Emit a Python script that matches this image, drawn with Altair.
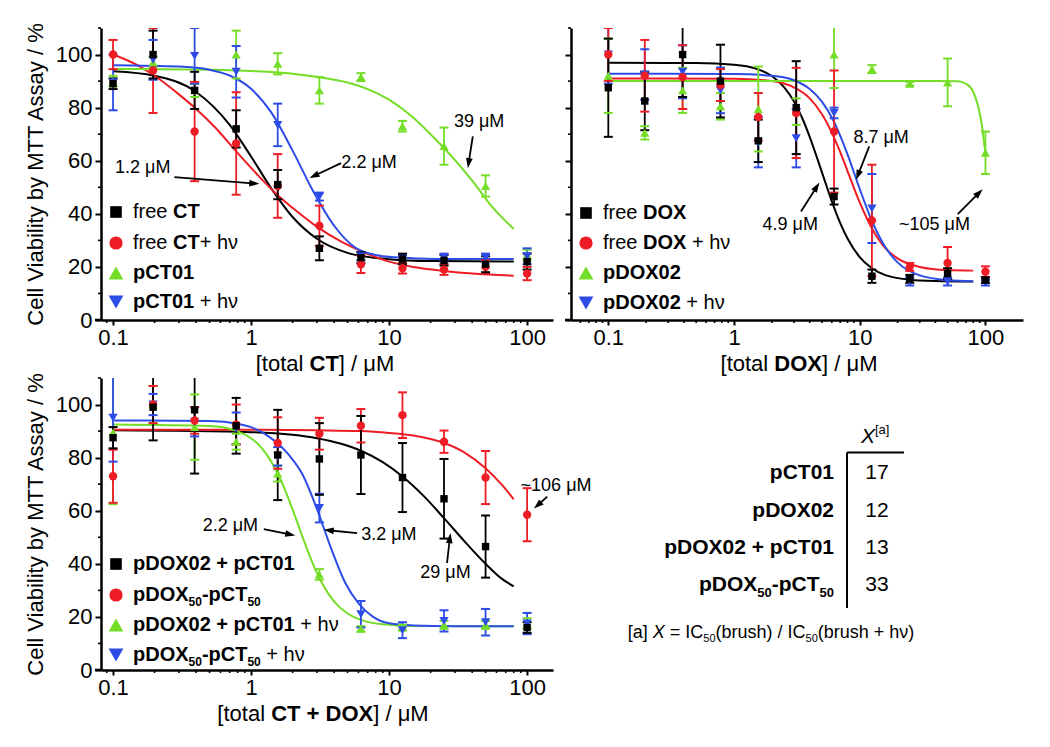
import math
import altair as alt
import pandas as pd

FONT = "Liberation Sans"
BLACK, RED, GREEN, BLUE = "#000000", "#ee1c25", "#74dd26", "#2d4ce6"

# ---------------- data ----------------
conc = [0.1, 0.195, 0.39, 0.78, 1.56, 3.125, 6.25, 12.5, 25, 50, 100]

# panel A : CT
a_black_mean = [89, 100, 86.5, 72, 51, 27, 23.5, 23, 22.5, 21, 22]
a_black_err = [2, 9, 7, 7, 5.5, 4.5, 2, 2, 2, 3, 3]
a_red_mean = [100, 94, 71, 66.5, 50.5, 35.5, 21, 19.5, 19, 20, 17.5]
a_red_err = [5.5, 16, 18.7, 19.3, 12, 7.6, 3.3, 2, 2, 2.5, 2.5]
a_green_mean = [90, 97, 86.5, 100, 96.5, 86.5, 91.5, 73, 65.5, 50.5, 24.5]
a_green_err = [2, 2, 2.5, 9, 4, 5, 1.5, 2, 7, 4, 2]
a_blue_mean = [89.5, 98, 99.5, 93.5, 73.5, 46.5, 24, 23, 23.5, 23.5, 24]
a_blue_err = [10.5, 7.5, 10.5, 9.7, 8, 1.5, 1.5, 1.5, 1.5, 1.5, 3]

a_black_fit_x = [0.1, 0.2, 0.4, 0.7, 1, 1.4, 2, 3, 5, 10, 20, 80]
a_black_fit_y = [93.7, 92.0, 85.9, 73.5, 61.6, 49.6, 38.8, 30.6, 25.3, 22.9, 22.2, 22.0]
a_red_fit_x = [0.1, 0.15, 0.2, 0.3, 0.4, 0.55, 0.78, 1.1, 1.56, 2.2, 3.125, 4.5, 6.25, 10, 15, 25, 40, 80]
a_red_fit_y = [100, 96, 92, 85, 79.5, 72.5, 63.5, 55, 47, 40.5, 34.5, 29.5, 26, 22, 20, 18.5, 17.5, 16.7]
a_green_fit_x = [0.1, 0.5, 1, 2, 3, 5, 7, 10, 14, 20, 28, 40, 56, 80]
a_green_fit_y = [94.6, 94.3, 93.8, 92.8, 91.6, 89.5, 87, 83, 77.5, 70, 62, 52.5, 42.5, 34.3]
a_blue_fit_x = [0.1, 0.3, 0.5, 0.7, 1, 1.4, 2, 2.8, 4, 5.6, 8, 11, 16, 30, 80]
a_blue_fit_y = [96, 95.5, 94.3, 92.1, 87.1, 78.2, 63.8, 48.8, 35.5, 27.5, 24.5, 23.6, 23.2, 23, 23]

# panel B : DOX
b_black_mean = [87.5, 82.5, 100, 90, 67.5, 80, 46.5, 16.5, 15.5, 17.5, 15]
b_black_err = [18.5, 11, 16, 13.7, 8, 17.5, 3, 2.5, 1.5, 2, 1]
b_red_mean = [100, 92, 91.5, 88.5, 76.5, 78, 71, 37.5, 20, 21.5, 18.2]
b_red_err = [10, 13.5, 12, 6, 9, 17, 23, 21, 1.5, 6, 2]
b_green_mean = [92, 70.5, 86.5, 80.5, 79.5, 78.5, 100, 94.5, 89, 89.5, 63]
b_green_err = [14, 2.5, 8.5, 5, 16, 5, 12.6, 1.5, 0.7, 9, 8]
b_blue_mean = [100, 92.5, 93.5, 86.5, 67, 68.5, 78, 42, 14.5, 14.5, 14]
b_blue_err = [11, 9.5, 10, 8.6, 9.5, 11, 2, 13, 1.5, 1.5, 1]

b_black_fit_x = [0.1, 0.5, 1, 1.5, 2, 2.5, 3, 3.5, 4, 5, 6, 7, 8, 10, 12.5, 16, 25, 40, 80]
b_black_fit_y = [96.9, 96.8, 96.2, 94.7, 91.9, 87.7, 82.3, 75.9, 69, 55.7, 44.7, 36.5, 30.7, 23.7, 19.5, 16.9, 15.2, 14.7, 14.5]
b_red_fit_x = [0.1, 1, 2, 3, 4, 5, 6, 7, 8, 10, 12.5, 16, 20, 30, 50, 80]
b_red_fit_y = [91, 90.9, 90, 87.6, 83.5, 77.6, 70.6, 63.2, 56.1, 44.3, 34.5, 27.1, 23.2, 20, 18.8, 18.6]
b_green_fit_x = [0.1, 10, 40, 60, 70, 80, 88, 94, 98, 100]
b_green_fit_y = [90, 90, 90, 89.9, 89, 86, 80, 73, 66, 63.5]
b_blue_fit_x = [0.1, 1, 2, 3, 4, 5, 6, 7, 8, 10, 12.5, 16, 20, 30, 50, 80]
b_blue_fit_y = [92.8, 92.7, 92, 90.3, 87, 82.3, 76.3, 69.4, 62.4, 49.4, 37.3, 27.4, 21.7, 16.8, 15, 14.6]

# panel C : CT + DOX
c_black_mean = [87.5, 99, 98, 92, 81, 79.5, 81, 72.5, 64.5, 46.5, 16]
c_black_err = [4, 12.5, 24, 10.5, 17, 13.5, 14.7, 13, 15, 11.7, 2]
c_red_mean = [73, 100, 94, 92.5, 85.5, 89, 92, 96, 86, 72.5, 58.5]
c_red_err = [10, 7, 5, 7.5, 9.7, 6, 6.3, 8.6, 4.2, 10, 10]
c_green_mean = [89.5, 100, 91.5, 86, 74, 36, 15.5, 16, 17, 17, 17.5]
c_green_err = [27, 7, 12.3, 3, 3, 2, 1, 1, 1.5, 1.5, 2]
c_blue_mean = [95, 100, 93.5, 91, 80.5, 61, 21, 15, 18.5, 18, 17.5]
c_blue_err = [16.5, 4, 5.5, 6, 3.5, 5.4, 5, 3, 4, 5, 4]

c_black_fit_x = [0.1, 1, 2, 3, 4.5, 6.25, 9, 12.5, 18, 25, 35, 50, 65, 80]
c_black_fit_y = [90.3, 89.6, 88.6, 87.3, 85.2, 82.6, 78.3, 72.9, 65.3, 57.2, 48.6, 40.0, 34.5, 31.5]
c_red_fit_x = [0.1, 1, 3, 6.25, 10, 15, 20, 25, 35, 50, 65, 80]
c_red_fit_y = [90.5, 90.5, 90.3, 90, 89.3, 88.3, 87, 85.5, 82, 76, 70, 64.3]
c_green_fit_x = [0.1, 0.5, 0.8, 1, 1.2, 1.4, 1.7, 2, 2.4, 2.8, 3.3, 4, 5, 6.5, 9, 15, 80]
c_green_fit_y = [92.5, 91.9, 89.9, 87.3, 83.5, 78.5, 69.8, 60.4, 49.1, 40.1, 32.3, 25.8, 21.3, 18.6, 17.2, 16.6, 16.5]
c_blue_fit_x = [0.1, 0.5, 0.8, 1, 1.34, 1.88, 2.34, 3.01, 3.76, 4.83, 6.03, 7.53, 10, 15, 30, 80]
c_blue_fit_y = [94, 93.8, 92.8, 91.5, 88, 81, 74, 60.5, 46.5, 32.7, 25, 20.3, 17.6, 16.8, 16.5, 16.5]

# annotations (text, x, y) and arrows (x_start, y_start, x_tip, y_tip)
a_notes = [("39 μM", 44.9, 74.7), ("2.2 μM", 7.16, 59.2), ("1.2 μM", 0.164, 57.2)]
a_arrows = [(40.4, 69.2, 37.2, 57.2), (4.49, 59.1, 2.65, 53.5), (0.278, 53.8, 1.148, 51.3)]
b_notes = [("8.7 μM", 14.8, 68.6), ("4.9 μM", 2.80, 35.8), ("~105 μM", 39.3, 35.8)]
b_arrows = [(11.9, 65.4, 9.36, 52.8), (3.41, 40.9, 4.78, 51.8), (60.3, 39.9, 95, 49.3)]
c_notes = [("2.2 μM", 0.708, 54.1), ("3.2 μM", 9.96, 50.9), ("29 μM", 25.6, 36.5), ("~106 μM", 162, 69.4)]
c_arrows = [(1.236, 53.1, 2.09, 50.7), (5.86, 51.6, 3.36, 52.8), (26.3, 40.3, 27.8, 51.6), (140, 65.3, 112, 60.8)]

# legend labels: list of (text, style, kind)
a_legend = [
    [("free ", "R", "n"), ("CT", "B", "n")],
    [("free ", "R", "n"), ("CT", "B", "n"), ("+ hν", "R", "n")],
    [("pCT01", "B", "n")],
    [("pCT01", "B", "n"), (" + hν", "R", "n")],
]
b_legend = [
    [("free ", "R", "n"), ("DOX", "B", "n")],
    [("free ", "R", "n"), ("DOX", "B", "n"), (" + hν", "R", "n")],
    [("pDOX02", "B", "n")],
    [("pDOX02", "B", "n"), (" + hν", "R", "n")],
]
c_legend = [
    [("pDOX02 + pCT01", "B", "n")],
    [("pDOX", "B", "n"), ("50", "B", "sub"), ("-pCT", "B", "n"), ("50", "B", "sub")],
    [("pDOX02 + pCT01", "B", "n"), (" + hν", "R", "n")],
    [("pDOX", "B", "n"), ("50", "B", "sub"), ("-pCT", "B", "n"), ("50", "B", "sub"), (" + hν", "R", "n")],
]
a_xtitle = [("[total ", "R", "n"), ("CT", "B", "n"), ("] / μM", "R", "n")]
b_xtitle = [("[total ", "R", "n"), ("DOX", "B", "n"), ("] / μM", "R", "n")]
c_xtitle = [("[total ", "R", "n"), ("CT + DOX", "B", "n"), ("] / μM", "R", "n")]

# table
tab_rows = [
    [("pCT01", "B", "n")],
    [("pDOX02", "B", "n")],
    [("pDOX02 + pCT01", "B", "n")],
    [("pDOX", "B", "n"), ("50", "B", "sub"), ("-pCT", "B", "n"), ("50", "B", "sub")],
]
tab_values = ["17", "12", "13", "33"]
tab_header = [("X", "I", "n"), ("[a]", "R", "sup")]
tab_foot = [("[a] ", "R", "n"), ("X", "I", "n"), (" = IC", "R", "n"), ("50", "R", "sub"),
            ("(brush) / IC", "R", "n"), ("50", "R", "sub"), ("(brush + hν)", "R", "n")]

# ---------------- layout (pixels) ----------------
W, H = 452, 292
PA = dict(x0=0.0818, x1=154.0)
PB = dict(x0=0.0505, x1=199.0)
PC = dict(x0=0.0818, x1=154.0)
LEG_SYM_X, LEG_TXT_X = 15, 32
a_leg_py = [184, 215, 245, 274]
b_leg_py = [185, 215, 245, 275]
c_leg_py = [186, 217, 247, 277]
a_xt = (224, 336)
b_xt = (228, 336)
c_xt = (222, 336)
tab_label_right = 263
tab_value_x = 306
tab_row_py = [95, 133, 170, 207]
tab_head_px, tab_head_py = 290, 59
tab_lines = [(276, 74.5, 333, 74.5), (276, 74.5, 276, 230)]
tab_foot_cx, tab_foot_py = 200, 255

REG = {' ': 278, '(': 333, ')': 333, '+': 584, '-': 333, '.': 278, '/': 278, '=': 584,
       '[': 278, ']': 278, '~': 584, '%': 889, 'A': 667, 'C': 722, 'D': 722, 'I': 278,
       'M': 833, 'O': 778, 'T': 611, 'X': 667, 'a': 556, 'b': 556, 'c': 500, 'e': 556,
       'f': 278, 'h': 556, 'l': 222, 'o': 556, 'p': 556, 'r': 333, 's': 500, 't': 278,
       'u': 556, 'y': 500, 'μ': 576, 'ν': 500}
BLD = {' ': 278, '+': 584, '-': 333, 'C': 722, 'D': 722, 'O': 778, 'T': 611, 'X': 667,
       'p': 611, 'e': 556, 'f': 333, 'r': 389, 'h': 611, 'ν': 556, 't': 333, 'o': 611}


def tw(s, bold, size):
    tab = BLD if bold else REG
    return sum(tab.get(c, 556) for c in s) * size / 1000.0


def seg_rows(segs, px, py, size, align="left"):
    items, total = [], 0.0
    for text, style, kind in segs:
        s = size if kind == "n" else round(size * 0.62)
        w = tw(text, style == "B", s)
        items.append((text, style, kind, s, w))
        total += w
    cur = px - total / 2 if align == "center" else (px - total if align == "right" else px)
    rows = []
    for text, style, kind, s, w in items:
        stripped = text.lstrip(" ")
        lead = tw(text[: len(text) - len(stripped)], style == "B", s)
        dy = {"n": 0.0, "sub": 0.36 * size, "sup": -0.32 * size}[kind]
        rows.append(dict(px=cur + lead, py=py + dy, text=stripped, style=style, size=s))
        cur += w
    return rows


def lg(v):
    return math.log10(v)


def x2px(P, v):
    return W * (lg(v) - lg(P["x0"])) / (lg(P["x1"]) - lg(P["x0"]))


def px2x(P, px):
    return 10 ** (lg(P["x0"]) + px / W * (lg(P["x1"]) - lg(P["x0"])))


def y2px(v):
    return H * (1 - v / 110.0)


def px2y(py):
    return 110.0 * (1 - py / H)


def text_layers(df, X, Y):
    out = []
    for style, kw in (("R", {}), ("B", {"fontWeight": "bold"}), ("I", {"fontStyle": "italic"})):
        sub = df[df["style"] == style]
        if len(sub) == 0:
            continue
        out.append(
            alt.Chart(sub).mark_text(align="left", baseline="middle", font=FONT, color="black", **kw)
            .encode(x=X("x"), y=Y("y"), text="text:N", size=alt.Size("size:Q", scale=None))
        )
    return out


SHAPE_SIZE = {"square": 55, "circle": 70, "triangle-up": 85, "triangle-down": 85}
LEG_SIZE = {"square": 135, "circle": 175, "triangle-up": 220, "triangle-down": 220}
ARROW_PATH = "M0,0L-0.5,1.5L0.5,1.5Z"


def panel(P, series, legend, leg_py, notes, arrows, xtitle, xt, ylabels):
    xs = alt.Scale(type="log", domain=[P["x0"], P["x1"]], nice=False)
    ys = alt.Scale(domain=[0, 110], nice=False, zero=False)
    xax = alt.Axis(values=[0.1, 1, 10, 100], format="~g", title=None, grid=False, tickSize=5,
                   tickWidth=2, domainWidth=2.5, labelFontSize=22, labelPadding=2, labelFont=FONT,
                   labelColor="black", tickColor="black", domainColor="black", labelFlush=False)
    if ylabels:
        yax = alt.Axis(values=[0, 20, 40, 60, 80, 100], title="Cell Viability by MTT Assay / %",
                       grid=False, tickSize=6, tickWidth=2, domainWidth=2.5, labelFontSize=22,
                       labelPadding=3, labelFont=FONT, labelColor="black", tickColor="black",
                       domainColor="black", titleFont=FONT, titleFontSize=22,
                       titleFontWeight="normal", titleColor="black", titlePadding=8)
    else:
        yax = alt.Axis(values=[0, 20, 40, 60, 80, 100], title=None, labels=False, grid=False,
                       tickSize=6, tickWidth=2, domainWidth=2.5, tickColor="black",
                       domainColor="black")

    def X(f):
        return alt.X(f + ":Q", scale=xs, axis=xax)

    def Y(f):
        return alt.Y(f + ":Q", scale=ys, axis=yax)

    layers = []
    crows = []
    for sid, (name, col, shp, mean, err, fx, fy) in enumerate(series):
        for i, (xv, yv) in enumerate(zip(fx, fy)):
            crows.append(dict(sid=sid, i=i, x=xv, y=yv, col=col))
    layers.append(
        alt.Chart(pd.DataFrame(crows)).mark_line(strokeWidth=2, interpolate="monotone", clip=True)
        .encode(x=X("x"), y=Y("y"), color=alt.Color("col:N", scale=None),
                detail="sid:N", order="i:Q")
    )
    draw_order = [2, 3, 1, 0]
    erows, caprows, prows = [], [], []
    for k in draw_order:
        name, col, shp, mean, err, fx, fy = series[k]
        for xv, m, e in zip(conc, mean, err):
            erows.append(dict(x=xv, lo=m - e, hi=m + e, col=col))
            caprows.append(dict(x=xv, y=m - e, col=col))
            caprows.append(dict(x=xv, y=m + e, col=col))
            prows.append(dict(x=xv, y=m, col=col, shp=shp, sz=SHAPE_SIZE[shp]))
    layers.append(
        alt.Chart(pd.DataFrame(erows)).mark_rule(strokeWidth=1.8, clip=True)
        .encode(x=X("x"), y=Y("lo"), y2="hi:Q", color=alt.Color("col:N", scale=None))
    )
    layers.append(
        alt.Chart(pd.DataFrame(caprows)).mark_point(shape="stroke", filled=False, strokeWidth=2,
                                                    size=81, opacity=1, clip=True)
        .encode(x=X("x"), y=Y("y"), color=alt.Color("col:N", scale=None))
    )
    layers.append(
        alt.Chart(pd.DataFrame(prows)).mark_point(filled=True, opacity=1, clip=True)
        .encode(x=X("x"), y=Y("y"), color=alt.Color("col:N", scale=None),
                shape=alt.Shape("shp:N", scale=None), size=alt.Size("sz:Q", scale=None))
    )
    xminor = [v for v in [0.06, 0.07, 0.08, 0.09] if v > P["x0"]]
    xminor += [k * 10 ** e for e in (-1, 0, 1) for k in range(2, 10)]
    layers.append(
        alt.Chart(pd.DataFrame({"x": xminor})).mark_rule(strokeWidth=1.6, color="black")
        .encode(x=X("x"), y=alt.value(H), y2=alt.value(H + 3))
    )
    layers.append(
        alt.Chart(pd.DataFrame({"y": [10, 30, 50, 70, 90, 110]})).mark_rule(strokeWidth=1.6, color="black")
        .encode(y=Y("y"), x=alt.value(-3), x2=alt.value(0))
    )
    layers.append(
        alt.Chart(pd.DataFrame({"k": [0]})).mark_rule(strokeWidth=2.5, color="black")
        .encode(x=alt.value(-6), x2=alt.value(0), y=alt.value(H))
    )
    arows = []
    for xs0, ys0, xe, ye in arrows:
        sx, sy, ex, ey = x2px(P, xs0), y2px(ys0), x2px(P, xe), y2px(ye)
        dx, dy = ex - sx, ey - sy
        L = math.hypot(dx, dy)
        ang = math.degrees(math.atan2(dx, -dy)) % 360
        lx, ly = ex - dx / L * 7, ey - dy / L * 7
        arows.append(dict(x=xs0, y=ys0, x2=px2x(P, lx), y2=px2y(ly), hx=xe, hy=ye, ang=ang))
    adf = pd.DataFrame(arows)
    layers.append(
        alt.Chart(adf).mark_rule(strokeWidth=1.8, color="black")
        .encode(x=X("x"), y=Y("y"), x2="x2:Q", y2="y2:Q")
    )
    layers.append(
        alt.Chart(adf).mark_point(shape=ARROW_PATH, filled=True, size=180, color="black", opacity=1)
        .encode(x=X("hx"), y=Y("hy"), angle=alt.Angle("ang:Q", scale=None))
    )
    lrows = []
    for k, py in zip(range(4), leg_py):
        name, col, shp, mean, err, fx, fy = series[k]
        lrows.append(dict(x=px2x(P, LEG_SYM_X), y=px2y(py), col=col, shp=shp, sz=LEG_SIZE[shp]))
    layers.append(
        alt.Chart(pd.DataFrame(lrows)).mark_point(filled=True, opacity=1)
        .encode(x=X("x"), y=Y("y"), color=alt.Color("col:N", scale=None),
                shape=alt.Shape("shp:N", scale=None), size=alt.Size("sz:Q", scale=None))
    )
    trows = []
    for segs, py in zip(legend, leg_py):
        trows += seg_rows(segs, LEG_TXT_X, py, 20)
    for text, xv, yv in notes:
        trows += seg_rows([(text, "R", "n")], x2px(P, xv), y2px(yv), 18, align="center")
    trows += seg_rows(xtitle, xt[0], xt[1], 22, align="center")
    tdf = pd.DataFrame(trows)
    tdf["x"] = [px2x(P, v) for v in tdf["px"]]
    tdf["y"] = [px2y(v) for v in tdf["py"]]
    layers += text_layers(tdf, X, Y)
    return alt.layer(*layers).properties(width=W, height=H)


def mk(names_cols, data):
    return [(n, c, s, m, e, fx, fy) for (n, c, s), (m, e, fx, fy) in zip(names_cols, data)]


styles = [("black", BLACK, "square"), ("red", RED, "circle"),
          ("green", GREEN, "triangle-up"), ("blue", BLUE, "triangle-down")]

sa = mk(styles, [(a_black_mean, a_black_err, a_black_fit_x, a_black_fit_y),
                 (a_red_mean, a_red_err, a_red_fit_x, a_red_fit_y),
                 (a_green_mean, a_green_err, a_green_fit_x, a_green_fit_y),
                 (a_blue_mean, a_blue_err, a_blue_fit_x, a_blue_fit_y)])
sb = mk(styles, [(b_black_mean, b_black_err, b_black_fit_x, b_black_fit_y),
                 (b_red_mean, b_red_err, b_red_fit_x, b_red_fit_y),
                 (b_green_mean, b_green_err, b_green_fit_x, b_green_fit_y),
                 (b_blue_mean, b_blue_err, b_blue_fit_x, b_blue_fit_y)])
sc = mk(styles, [(c_black_mean, c_black_err, c_black_fit_x, c_black_fit_y),
                 (c_red_mean, c_red_err, c_red_fit_x, c_red_fit_y),
                 (c_green_mean, c_green_err, c_green_fit_x, c_green_fit_y),
                 (c_blue_mean, c_blue_err, c_blue_fit_x, c_blue_fit_y)])

p1 = panel(PA, sa, a_legend, a_leg_py, a_notes, a_arrows, a_xtitle, a_xt, True)
p2 = panel(PB, sb, b_legend, b_leg_py, b_notes, b_arrows, b_xtitle, b_xt, False)
p3 = panel(PC, sc, c_legend, c_leg_py, c_notes, c_arrows, c_xtitle, c_xt, True)

# ---------------- table panel ----------------
tx = alt.Scale(domain=[0, W], range=[0, W])
ty = alt.Scale(domain=[0, H], range=[0, H])


def TX(f):
    return alt.X(f + ":Q", scale=tx, axis=None)


def TY(f):
    return alt.Y(f + ":Q", scale=ty, axis=None)


trows = []
for segs, py in zip(tab_rows, tab_row_py):
    trows += seg_rows(segs, tab_label_right, py, 21, align="right")
for v, py in zip(tab_values, tab_row_py):
    trows += seg_rows([(v, "R", "n")], tab_value_x, py, 21, align="center")
trows += seg_rows(tab_header, tab_head_px, tab_head_py, 21)
trows += seg_rows(tab_foot, tab_foot_cx, tab_foot_py, 18, align="center")
tdf = pd.DataFrame(trows)
tdf["x"] = tdf["px"]
tdf["y"] = tdf["py"]
tlayers = text_layers(tdf, TX, TY)
ldf = pd.DataFrame([dict(x=a, y=b, x2=c, y2=d) for a, b, c, d in tab_lines])
tlayers.append(
    alt.Chart(ldf).mark_rule(strokeWidth=2, color="black")
    .encode(x=TX("x"), y=TY("y"), x2="x2:Q", y2="y2:Q")
)
tab = alt.layer(*tlayers).properties(width=W, height=H)

chart = (
    alt.concat(p1, p2, p3, tab, columns=2, spacing={"row": 58, "column": 18}, bounds="flush")
    .properties(padding={"left": 16, "top": 13, "right": 5, "bottom": 5})
    .configure_view(stroke=None)
)
chart.save("out.html", embed_options={"renderer": "svg", "actions": False})
